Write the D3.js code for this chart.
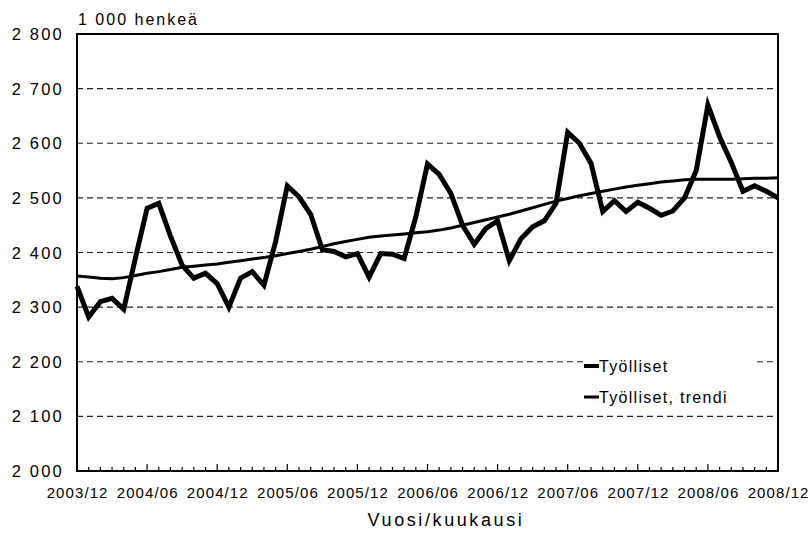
<!DOCTYPE html>
<html>
<head>
<meta charset="utf-8">
<script src="https://cdn.jsdelivr.net/npm/d3@7"></script>
<style>
body { margin: 0; background: #fff; }
text { font-family: "Liberation Sans", Arial, sans-serif; fill: #000; }
</style>
</head>
<body>
<div id="chart"></div>
<script>

// monthly values 2003/12 .. 2008/12, 1 000 persons
var months = [];
for (var m = 0; m <= 60; ++m) months.push(m);

var tyolliset = [
    2338, 2282, 2310, 2316, 2296, 2390, 2481, 2490, 2430, 2377, 2353, 2362, 2343,
    2300, 2353, 2365, 2340, 2420, 2522, 2502, 2470, 2405, 2402, 2392, 2398,
    2355, 2398, 2397, 2389, 2465, 2562, 2543, 2508, 2450, 2415, 2444, 2458,
    2385, 2425, 2447, 2458, 2490, 2620, 2600, 2563, 2475, 2495, 2475, 2492,
    2481, 2468, 2476, 2500, 2550, 2670, 2612, 2565, 2512, 2522, 2512, 2500
];

var trendi = [
    2357, 2355, 2353, 2352, 2354, 2358, 2362, 2365, 2369, 2373, 2375, 2377, 2379,
    2382, 2385, 2388, 2391, 2394, 2398, 2402, 2406, 2411, 2416, 2420, 2424,
    2428, 2430, 2432, 2434, 2436, 2438, 2441, 2445, 2450, 2455, 2460, 2465,
    2470, 2476, 2482, 2488, 2494, 2499, 2504, 2508, 2512, 2516, 2520, 2523,
    2526, 2529, 2531, 2533, 2534, 2534, 2534, 2534, 2535, 2536, 2536, 2537
];

var tickLabels = ["2003/12", "2004/06", "2004/12", "2005/06", "2005/12", "2006/06",
                  "2006/12", "2007/06", "2007/12", "2008/06", "2008/12"];
var yTicks = [2000, 2100, 2200, 2300, 2400, 2500, 2600, 2700, 2800];
var seriesNames = ["Työlliset", "Työlliset, trendi"];

//////////////////////////////////////////////////////////////////////////////

var svgW = 810, svgH = 537;
var plotL = 77, plotR = 778, plotT = 34, plotB = 471;

var xScale = d3.scaleLinear().domain([0, 60]).range([plotL, plotR]);
var yScale = d3.scaleLinear().domain([2000, 2800]).range([plotB, plotT]);

var svg = d3.select("#chart")
    .append("svg")
    .attr("width", svgW)
    .attr("height", svgH);

function fmt(v) {
    return d3.format(",")(v).replace(",", " ");
}

// dashed grid
svg.append("g")
    .selectAll("line")
    .data(yTicks.filter(function(d) { return d > 2000 && d < 2800; }))
    .enter()
    .append("line")
    .attr("x1", plotL).attr("x2", plotR)
    .attr("y1", function(d) { return yScale(d); })
    .attr("y2", function(d) { return yScale(d); })
    .attr("stroke", "#222")
    .attr("stroke-width", 1.2)
    .attr("stroke-dasharray", "6,4");

// y labels
svg.append("g")
    .selectAll("text")
    .data(yTicks)
    .enter()
    .append("text")
    .attr("x", 64)
    .attr("y", function(d) { return yScale(d) + 6; })
    .attr("text-anchor", "end")
    .attr("font-size", 16.5)
    .attr("letter-spacing", 2.2)
    .text(fmt);

svg.append("text")
    .attr("x", 78).attr("y", 25)
    .attr("font-size", 16)
    .attr("letter-spacing", 2)
    .text("1 000 henkeä");

// month ticks on the bottom axis, pointing up
svg.append("g")
    .selectAll("line")
    .data(months)
    .enter()
    .append("line")
    .attr("x1", function(d) { return xScale(d); })
    .attr("x2", function(d) { return xScale(d); })
    .attr("y1", plotB)
    .attr("y2", function(d) { return d % 6 == 0 ? plotB - 7 : plotB - 4; })
    .attr("stroke", "#000")
    .attr("stroke-width", 1.2);

// x labels
svg.append("g")
    .selectAll("text")
    .data(tickLabels)
    .enter()
    .append("text")
    .attr("x", function(d, i) { return xScale(i * 6) + 0.6; })
    .attr("y", 498)
    .attr("text-anchor", "middle")
    .attr("font-size", 15)
    .attr("letter-spacing", 1.1)
    .text(function(d) { return d; });

svg.append("text")
    .attr("x", 446).attr("y", 526)
    .attr("text-anchor", "middle")
    .attr("font-size", 18)
    .attr("letter-spacing", 2.6)
    .text("Vuosi/kuukausi");

// frame
svg.append("rect")
    .attr("x", plotL).attr("y", plotT)
    .attr("width", plotR - plotL).attr("height", plotB - plotT)
    .attr("fill", "none")
    .attr("stroke", "#000")
    .attr("stroke-width", 2);

// lines
var line = d3.line()
    .x(function(d, i) { return xScale(i); })
    .y(function(d) { return yScale(d); });

svg.append("path")
    .datum(trendi)
    .attr("d", line)
    .attr("fill", "none")
    .attr("stroke", "#000")
    .attr("stroke-width", 3);

svg.append("path")
    .datum(tyolliset)
    .attr("d", line)
    .attr("fill", "none")
    .attr("stroke", "#000")
    .attr("stroke-width", 5)
    .attr("stroke-linejoin", "miter");

// legend
var legend = svg.append("g");
legend.append("rect")
    .attr("x", 584).attr("y", 356)
    .attr("width", 172).attr("height", 54)
    .attr("fill", "#fff");

var legendRows = legend.selectAll("g")
    .data(seriesNames)
    .enter()
    .append("g")
    .attr("transform", function(d, i) { return "translate(584," + (366 + i * 31) + ")"; });

legendRows.append("line")
    .attr("x1", 0).attr("x2", 15)
    .attr("stroke", "#000")
    .attr("stroke-width", function(d, i) { return i == 0 ? 4 : 3; });

legendRows.append("text")
    .attr("x", 15).attr("y", 6)
    .attr("font-size", 16)
    .attr("letter-spacing", 1.3)
    .text(function(d) { return d; });

</script>
</body>
</html>
